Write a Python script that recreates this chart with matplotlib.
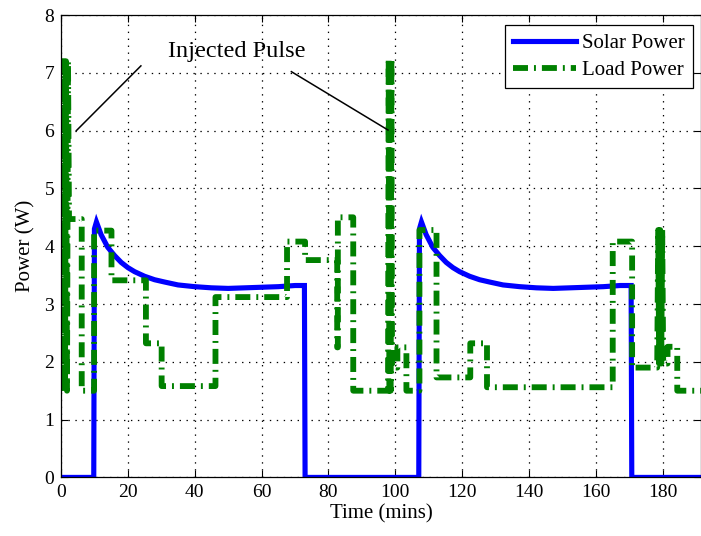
import numpy as np
import matplotlib.pyplot as plt

plt.rcParams['font.family'] = ['Liberation Serif', 'DejaVu Serif']
plt.rcParams['lines.scale_dashes'] = False

# solar panel output (mins, W)
solar_t = [0, 9.8, 10.0, 10.6, 12, 14, 16, 18, 20, 22, 25, 28, 31, 35, 40, 45, 50,
           55, 60, 65, 70, 72.8, 73.0, 107.0, 107.2, 107.8, 109.2, 111.2, 113.2,
           115.2, 117.2, 119.2, 122.2, 125.2, 128.2, 132.2, 137.2, 142.2, 147.2,
           152.2, 157.2, 162.2, 167.2, 170.5, 170.7, 192]
solar_p = [0, 0, 4.30, 4.42, 4.20, 3.98, 3.84, 3.72, 3.63, 3.56, 3.48, 3.42, 3.38,
           3.33, 3.30, 3.28, 3.27, 3.28, 3.29, 3.30, 3.32, 3.32, 0, 0, 4.30, 4.42,
           4.20, 3.98, 3.84, 3.72, 3.63, 3.56, 3.48, 3.42, 3.38, 3.33, 3.30, 3.28,
           3.27, 3.28, 3.29, 3.30, 3.32, 3.32, 0, 0]

# load demand (mins, W), injected pulses near 0, 98 and 179 mins
load_t = [0.0, 0.3, 0.6, 0.9, 1.2, 1.5, 1.8, 2.1, 2.4, 6.2, 6.2, 9.9, 9.9, 15.1,
          15.1, 25.4, 25.4, 30.1, 30.1, 46.2, 46.2, 67.6, 67.6, 73.0, 73.0, 82.6,
          82.6, 82.8, 82.8, 87.4, 87.4, 97.8, 98.0, 98.2, 98.4, 98.6, 98.8, 99.0,
          100.6, 100.6, 103.3, 103.3, 107.2, 107.2, 112.3, 112.3, 122.4, 122.4,
          127.4, 127.4, 165.0, 165.0, 170.8, 170.8, 178.3, 178.6, 178.9, 179.2,
          179.5, 179.8, 180.1, 181.4, 181.4, 184.3, 184.3, 192]
load_p = [1.5, 7.2, 1.5, 7.2, 1.5, 7.2, 1.5, 7.2, 4.47, 4.47, 1.5, 1.5, 4.27, 4.27,
          3.41, 3.41, 2.32, 2.32, 1.58, 1.58, 3.12, 3.12, 4.08, 4.08, 3.76, 3.76,
          2.25, 2.25, 4.5, 4.5, 1.5, 1.5, 7.25, 1.5, 7.25, 1.5, 7.25, 1.9,
          1.9, 2.25, 2.25, 1.5, 1.5, 4.28, 4.28, 1.73, 1.73, 2.32, 2.32, 1.56,
          1.56, 4.08, 4.08, 1.9, 1.9, 4.28, 1.97, 4.28, 1.97, 4.28, 1.97, 1.97,
          2.26, 2.26, 1.5, 1.5]

fig = plt.figure(figsize=(7.01, 5.36), dpi=100)
ax = fig.add_axes([0.087, 0.1093, 0.913, 0.8627])

ax.plot(solar_t, solar_p, color='#0000ff', lw=3.7, label='Solar Power',
        solid_joinstyle='miter')
ax.plot(load_t, load_p, color='#008000', lw=4.2, label='Load Power',
        dashes=(10.8, 4.3, 1.4, 4.3), dash_capstyle='butt')

ax.set_xlim(0, 191.4)
ax.set_ylim(0, 8)
ax.set_xticks(np.arange(0, 200, 20))
ax.set_yticks(np.arange(0, 9, 1))
ax.grid(True, color='black', lw=0.9, linestyle=(0, (1, 4)))
ax.tick_params(direction='in', length=5, width=0.8, top=True, right=True,
               labelsize=14, pad=5)
for s in ax.spines.values():
    s.set_linewidth(0.9)

ax.set_xlabel('Time (mins)', fontsize=15, labelpad=2)
ax.set_ylabel('Power (W)', fontsize=15, labelpad=6)

# arrows pointing at the injected pulses
ax.text(52.5, 7.28, 'Injected Pulse', fontsize=17.5, ha='center', va='baseline')
ax.plot([23.9, 4.6], [7.12, 6.0], color='black', lw=1.1)
ax.plot([68.9, 97.8], [7.02, 6.01], color='black', lw=1.1)

leg = ax.legend(loc='upper right', bbox_to_anchor=(0.9875, 0.978),
                borderaxespad=0, fontsize=15, handlelength=3.0,
                labelspacing=0.35, fancybox=False, framealpha=1,
                edgecolor='black', borderpad=0.4, handletextpad=0.3)
leg.get_frame().set_linewidth(0.9)

fig.savefig('out.png', dpi=100)
